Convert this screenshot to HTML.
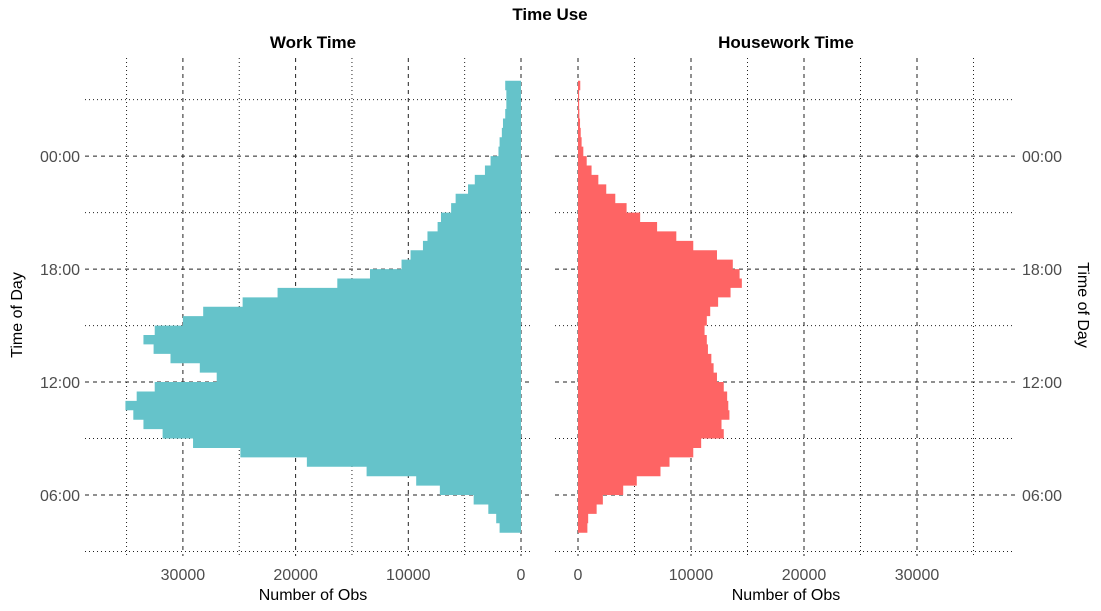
<!DOCTYPE html>
<html><head><meta charset="utf-8"><style>
body{margin:0;background:#fff;}
svg{display:block;font-family:"Liberation Sans",sans-serif;}
</style></head><body>
<svg id="chart" width="1101" height="611">
<text x="550" y="20" text-anchor="middle" font-size="17" font-weight="bold">Time Use</text>
<text x="313" y="48" text-anchor="middle" font-size="17" font-weight="bold">Work Time</text>
<text x="786" y="48" text-anchor="middle" font-size="17" font-weight="bold">Housework Time</text>
<g id="grid"></g>
<g id="bars"></g>
<g id="labels" font-size="16" fill="#4d4d4d"></g>
<text x="313" y="600" text-anchor="middle" font-size="16">Number of Obs</text>
<text x="786" y="600" text-anchor="middle" font-size="16">Number of Obs</text>
<text transform="translate(22,315) rotate(-90)" text-anchor="middle" font-size="16">Time of Day</text>
<text transform="translate(1078,305) rotate(90)" text-anchor="middle" font-size="16">Time of Day</text>
</svg>
<script>
// half-hour bins starting at 04:00 (values in thousands of obs)
const binStartHours = [];
for (let i = 0; i < 48; i++) binStartHours.push(4 + i * 0.5);
const workValues = [1.9,2.2,2.9,4.2,7.2,9.3,13.7,19,24.9,29.1,31.8,33.5,34.4,35.1,34.1,32.5,27,28.5,31.1,32.6,33.5,32.5,30,28.2,24.7,21.6,16.3,13.4,10.6,9.8,8.7,8.3,7.4,7.1,6.2,5.8,4.7,4.1,3.2,2.7,2.0,1.9,1.7,1.6,1.4,1.3,1.3,1.4];
const houseValues = [0.83,0.9,1.65,2.2,4.0,5.2,7.3,8.1,10.2,10.9,12.9,12.7,13.4,13.3,13.2,12.9,12.3,12,11.8,11.5,11.4,11.2,11.4,11.7,12.4,13.5,14.5,14.3,13.7,12.3,10.2,8.7,7.0,5.5,4.3,3.3,2.5,1.8,1.2,0.77,0.47,0.32,0.24,0.18,0.12,0.1,0.1,0.2];
const xTicks = [0,10000,20000,30000];
const xTickLabels = ["0","10000","20000","30000"];
const yTickHours = [6,12,18,24];
const yTickLabels = ["06:00","12:00","18:00","00:00"];

const NS="http://www.w3.org/2000/svg";
const yScale = h => 532.7 - 18.83*(h-4);
const xLeft = v => 521 - v*0.01127;
const xRight = v => 578 + v*0.0113;
function mk(tag, attrs, parent){const e=document.createElementNS(NS,tag);for(const k in attrs)e.setAttribute(k,attrs[k]);parent.appendChild(e);return e;}
const grid=document.getElementById('grid'), bars=document.getElementById('bars'), labels=document.getElementById('labels');
const panels=[{sc:xLeft,x0:85,x1:530,name:'work'},{sc:xRight,x0:555,x1:1015,name:'housework'}];
panels.forEach(p=>{
  for(let v=0; v<=35000; v+=5000){
    const x=p.sc(v), major=v%10000===0;
    const l=mk('line',{x1:x,x2:x,y1:58,y2:556,stroke:'#222','stroke-width':1,'stroke-dasharray':major?'4,4':'1,3'},grid);
    
    
  }
  for(let h=3; h<=27; h+=3){
    const y=yScale(h), major=h%6===0;
    const l=mk('line',{x1:p.x0,x2:p.x1,y1:y,y2:y,stroke:'#222','stroke-width':1,'stroke-dasharray':major?'4,4':'1,3'},grid);
    
    
  }
  xTicks.forEach((v,i)=>{
    const t=mk('text',{x:p.sc(v),y:580,'text-anchor':'middle'},labels);
    t.textContent=xTickLabels[i];
    
    
  });
});
yTickHours.forEach((h,i)=>{
  const a=mk('text',{x:80,y:yScale(h)+6,'text-anchor':'end'},labels);
  a.textContent=yTickLabels[i];
  
  
  const b=mk('text',{x:1022,y:yScale(h)+6,'text-anchor':'start'},labels);
  b.textContent=yTickLabels[i];
  
  
});
function area(vals, sc, color, name){
  let d='M'+sc(0)+','+yScale(binStartHours[0]);
  vals.forEach((v,i)=>{
    const x=sc(v*1000);
    d+=' L'+x+','+yScale(binStartHours[i])+' L'+x+','+yScale(binStartHours[i]+0.5);
  });
  d+=' L'+sc(0)+','+yScale(binStartHours[vals.length-1]+0.5)+' Z';
  const p=mk('path',{d:d,fill:color},bars);
  
  
}
area(workValues, xLeft, '#65c3ca', 'work-time-bars');
area(houseValues, xRight, '#fe6464', 'housework-time-bars');
</script>
</body></html>
